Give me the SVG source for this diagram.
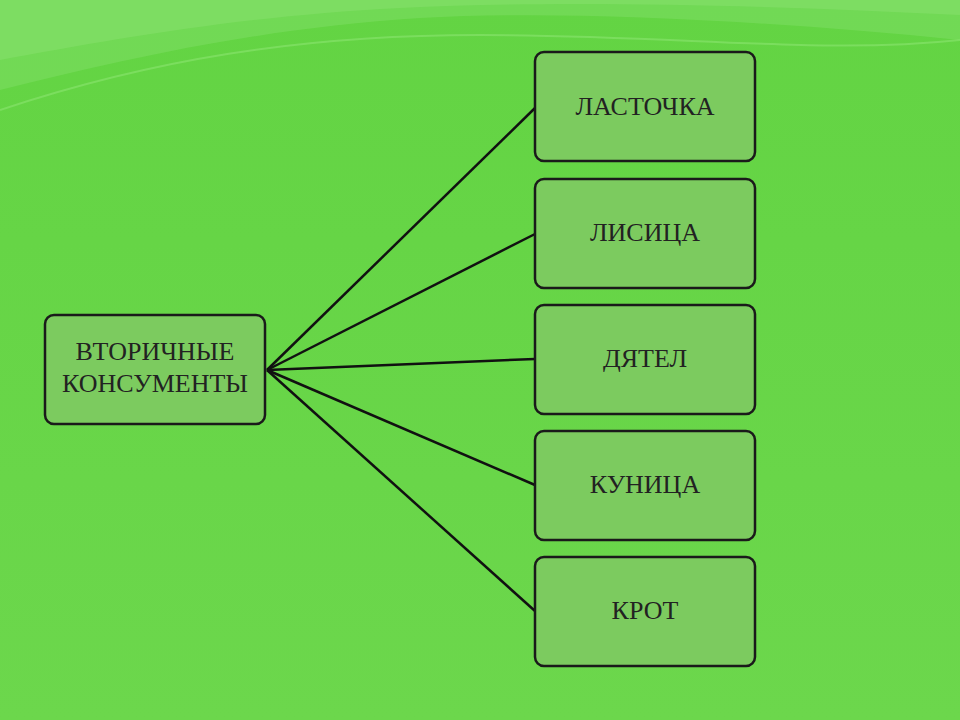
<svg xmlns="http://www.w3.org/2000/svg" width="960" height="720" viewBox="0 0 960 720">
<defs>
<linearGradient id="bg" x1="0" y1="0" x2="0" y2="1">
<stop offset="0" stop-color="#63d443"/><stop offset="1" stop-color="#6cd74c"/>
</linearGradient>
<style>
.box{fill:#7ccb5f;stroke:#1a1a1a;stroke-width:2.5}
.t{font-family:"Liberation Serif","DejaVu Serif",serif;font-size:26px;fill:#222;text-anchor:middle}
#connectors line{stroke:#111;stroke-width:2.5}
</style>
</defs>
<rect width="960" height="720" fill="url(#bg)"/>
<path d="M0 0H960V40C760 20 560 10 420 18C260 28 120 60 0 90Z" fill="#78dc5c" opacity="0.7"/>
<path d="M0 0H960V15C760 5 560 0 400 8C240 16 110 40 0 60Z" fill="#86e06a" opacity="0.6"/>
<path d="M0 110C150 60 300 35 480 35C680 35 820 55 960 40" fill="none" stroke="#8be470" stroke-width="2" opacity="0.6"/>
<g id="connectors">
<line x1="267" y1="370" x2="535" y2="108"/>
<line x1="267" y1="370" x2="535" y2="234"/>
<line x1="267" y1="370" x2="535" y2="359"/>
<line x1="267" y1="370" x2="535" y2="485"/>
<line x1="267" y1="370" x2="535" y2="611"/>
</g>
<g id="root"><rect class="box" x="45" y="315" width="220" height="109" rx="9"/>
<text class="t" x="155" y="360">ВТОРИЧНЫЕ</text><text class="t" x="155" y="392">КОНСУМЕНТЫ</text></g>
<g id="n1"><rect class="box" x="535" y="52" width="220" height="109" rx="9"/><text class="t" x="645" y="115">ЛАСТОЧКА</text></g>
<g id="n2"><rect class="box" x="535" y="179" width="220" height="109" rx="9"/><text class="t" x="645" y="241">ЛИСИЦА</text></g>
<g id="n3"><rect class="box" x="535" y="305" width="220" height="109" rx="9"/><text class="t" x="645" y="367">ДЯТЕЛ</text></g>
<g id="n4"><rect class="box" x="535" y="431" width="220" height="109" rx="9"/><text class="t" x="645" y="493">КУНИЦА</text></g>
<g id="n5"><rect class="box" x="535" y="557" width="220" height="109" rx="9"/><text class="t" x="645" y="619">КРОТ</text></g>
</svg>
